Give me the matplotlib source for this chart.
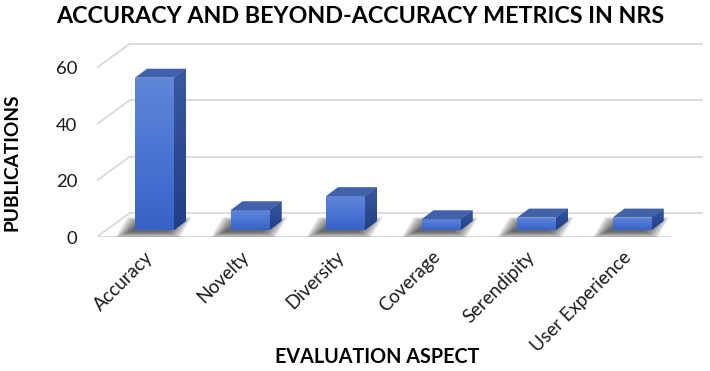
import numpy as np
import matplotlib
matplotlib.use("Agg")
import matplotlib.pyplot as plt
from matplotlib.patches import Polygon
from matplotlib.colors import LinearSegmentedColormap

# ---------------- data ----------------
categories = ["Accuracy", "Novelty", "Diversity", "Coverage", "Serendipity", "User Experience"]
publications = [54, 7, 12, 3.8, 4.4, 4.4]
y_ticks = [0, 20, 40, 60]
title = "ACCURACY AND BEYOND-ACCURACY METRICS IN NRS"
x_label = "EVALUATION ASPECT"
y_label = "PUBLICATIONS"

# ---------------- layout (pixels) ----------------
W, H = 710, 371
FONT = ["Lato", "DejaVu Sans"]
fig = plt.figure(figsize=(W / 100, H / 100), dpi=100)
fig.patch.set_facecolor("white")
L, R, T, B = 97, 703, 30, 237
ax = fig.add_axes([L / W, 1 - B / H, (R - L) / W, (B - T) / H])

PX_CAT = 95.5   # pixels per category
PX_VAL = 2.82   # pixels per publication
X0_PX = 154.5   # pixel x of first bar centre
Y0_PX = 230     # pixel y of bar baseline


def px(dx, dy):
    return dx / PX_CAT, dy / PX_VAL


XL = ((L - X0_PX) / PX_CAT, (R - X0_PX) / PX_CAT)
YL = ((Y0_PX - B) / PX_VAL, (Y0_PX - T) / PX_VAL)

back = px(23, 17)
front = px(-10, -7)
depth = px(12, 9)
bw = 39 / PX_CAT
n = len(categories)
grid_c = "#d9d9d9"

# walls / gridlines
for v in y_ticks:
    ax.plot([-0.5 + back[0], n - 0.5 + back[0]], [v + back[1]] * 2, color=grid_c, lw=1.3, zorder=1)
    ax.plot([-0.5 + front[0], -0.5 + back[0]], [v + front[1], v + back[1]], color=grid_c, lw=1.3, zorder=1)
# floor front edge
ax.plot([-0.5 + front[0], n - 0.5 + front[0]], [front[1]] * 2, color=grid_c, lw=1.3, zorder=1)

front_cmap = LinearSegmentedColormap.from_list("f", ["#3763c8", "#4a75d2", "#5f86d8"])
side_cmap = LinearSegmentedColormap.from_list("s", ["#213f86", "#2c4b92", "#3a5aa0"])
top_c = "#4162ab"

for i, v in enumerate(publications):
    x0, x1 = i - bw / 2, i + bw / 2
    ddx, ddy = depth
    # soft shadow on the floor
    for k in range(9):
        e = k * 1.6
        ex, ey = px(e, e * 0.45)
        sx, sy = px(-7, -2)
        pts = [(x0 - ex + sx, -ey + sy), (x1 + ex + sx, -ey + sy),
               (x1 + ddx + ex + sx, ddy + ey + sy), (x0 + ddx - ex + sx, ddy + ey + sy)]
        ax.add_patch(Polygon(pts, closed=True, facecolor="black", edgecolor="none",
                             alpha=0.09, zorder=2))
    # front face
    bars = ax.bar(i, v, width=bw, color="#4a75d2", zorder=4, linewidth=0)
    patch = bars[0]
    g = np.linspace(0, 1, 64).reshape(-1, 1)
    im = ax.imshow(g, extent=[x0, x1, 0, v], origin="lower", aspect="auto",
                   cmap=front_cmap, zorder=4.5, interpolation="bilinear")
    im.set_clip_path(patch)
    # side face
    side = Polygon([(x1, 0), (x1 + ddx, ddy), (x1 + ddx, v + ddy), (x1, v)], closed=True,
                   facecolor="#2c4b92", edgecolor="none", zorder=4)
    ax.add_patch(side)
    im2 = ax.imshow(g, extent=[x1, x1 + ddx, 0, v + ddy], origin="lower", aspect="auto",
                    cmap=side_cmap, zorder=4.5, interpolation="bilinear")
    im2.set_clip_path(side)
    # top face
    ax.add_patch(Polygon([(x0, v), (x1, v), (x1 + ddx, v + ddy), (x0 + ddx, v + ddy)],
                         closed=True, facecolor=top_c, edgecolor="none", zorder=5))

ax.set_xlim(*XL)
ax.set_ylim(*YL)
for s in ax.spines.values():
    s.set_visible(False)
ax.set_facecolor("none")

renderer = fig.canvas.get_renderer()


def fitted_size(text, target_px, weight="normal", start=14.0):
    t = fig.text(0, 0, text, fontsize=start, family=FONT, fontweight=weight)
    w = t.get_window_extent(renderer).width
    t.remove()
    return start * target_px / w


tick_fs_y = fitted_size("60", 21.5)
tick_fs_x = fitted_size("Accuracy", 76)

ax.set_yticks([v + front[1] for v in y_ticks], labels=[str(v) for v in y_ticks])
ax.set_xticks([i + front[0] for i in range(n)], labels=categories)
ax.tick_params(axis="both", length=0)
ax.tick_params(axis="y", pad=14)
ax.tick_params(axis="x", pad=8)
for t in ax.get_yticklabels():
    t.set_fontfamily(FONT)
    t.set_fontsize(tick_fs_y)
    t.set_color("#1a1a1a")
for t in ax.get_xticklabels():
    t.set_fontfamily(FONT)
    t.set_fontsize(tick_fs_x)
    t.set_color("#1a1a1a")
    t.set_rotation(45)
    t.set_ha("right")
    t.set_va("top")
    t.set_rotation_mode("anchor")

fig.text(360 / W, 1 - 23 / H, title, ha="center", va="baseline",
         fontsize=fitted_size(title, 610, "bold"),
         fontweight="bold", family=FONT, color="black")
fig.text(377 / W, 1 - 363 / H, x_label, ha="center", va="baseline",
         fontsize=fitted_size(x_label, 205, "bold"),
         fontweight="bold", family=FONT, color="black")
fig.text(18 / W, 1 - 162.5 / H, y_label, ha="center", va="baseline", rotation=90,
         rotation_mode="anchor", fontsize=fitted_size(y_label, 139, "bold"),
         fontweight="bold", family=FONT, color="black")

fig.savefig("out.png", dpi=100, facecolor="white")
